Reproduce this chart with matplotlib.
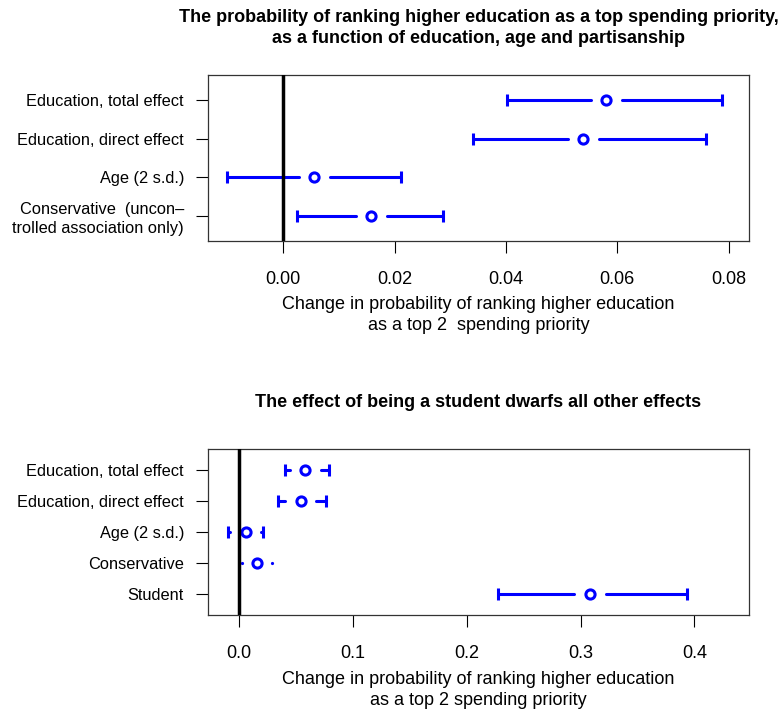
import numpy as np
import matplotlib.pyplot as plt
from matplotlib.ticker import FormatStrFormatter

plt.rcParams["font.family"] = "Liberation Sans"

# point estimates and 95% intervals, listed top row first
top_labels = [
    "Education, total effect",
    "Education, direct effect",
    "Age (2 s.d.)",
    "Conservative  (uncon\u2013\ntrolled association only)",
]
top_est = [0.0580, 0.0539, 0.0056, 0.0158]
top_lo = [0.0401, 0.0340, -0.0101, 0.0025]
top_hi = [0.0788, 0.0760, 0.0211, 0.0287]
top_xticks = [0.00, 0.02, 0.04, 0.06, 0.08]

student_est = 0.3084
student_lo = 0.2278
student_hi = 0.3935

bottom_labels = [
    "Education, total effect",
    "Education, direct effect",
    "Age (2 s.d.)",
    "Conservative",
    "Student",
]
bottom_est = top_est + [student_est]
bottom_lo = top_lo + [student_lo]
bottom_hi = top_hi + [student_hi]
bottom_xticks = [0.0, 0.1, 0.2, 0.3, 0.4]

BLUE = "#0000ff"
W, H = 780, 711


def px(x, y):
    return x / W, 1 - y / H


def ci_panel(ax, labels, est, lo, hi, xlim, pad, gap_px=15.7):
    n = len(labels)
    ys = np.arange(n, 0, -1)
    ax.set_xlim(xlim)
    ax.set_ylim(1 - pad, n + pad)
    gap = gap_px * (xlim[1] - xlim[0]) / ax.bbox.width

    ax.axvline(0, color="black", lw=2.5, zorder=5)
    for y, e, l, h in zip(ys, est, lo, hi):
        ends = [(l, max(e - gap, l)), (min(e + gap, h), h)]
        caps = [l, h]
        for (a, b), c in zip(ends, caps):
            if b - a > 0:
                ax.plot([a, b], [y, y], color=BLUE, lw=2.2,
                        solid_capstyle="round", zorder=3)
                ax.plot([c], [y], marker="|", ms=8, mew=2.2,
                        color=BLUE, zorder=3)
            else:
                # interval end falls inside the gap: R leaves a dot
                ax.plot([c], [y], marker="o", ms=2.3, mew=0,
                        color=BLUE, zorder=3)
        ax.plot([e], [y], marker="o", ms=6.6, mew=2.2, mfc="white",
                mec=BLUE, ls="none", zorder=4)

    ax.set_yticks(ys)
    ax.set_yticklabels(labels, fontsize=11.8, linespacing=1.3)
    ax.tick_params(axis="y", length=8.6, width=0.8, pad=8.9)
    ax.tick_params(axis="x", length=8.6, width=0.8, pad=13.2, labelsize=13)
    for s in ax.spines.values():
        s.set_color("#333333")
        s.set_linewidth(0.9)


fig = plt.figure(figsize=(7.8, 7.11), dpi=100)

ax1 = fig.add_axes([208.3 / W, 1 - 240.7 / H, 540.4 / W, 165.7 / H])
ci_panel(ax1, top_labels, top_est, top_lo, top_hi, (-0.01347, 0.08359), 0.648)
ax1.set_xticks(top_xticks)
ax1.xaxis.set_major_formatter(FormatStrFormatter("%.2f"))

ax2 = fig.add_axes([208.3 / W, 1 - 615 / H, 540.4 / W, 166 / H])
ci_panel(ax2, bottom_labels, bottom_est, bottom_lo, bottom_hi,
         (-0.02725, 0.4478), 0.682)
ax2.set_xticks(bottom_xticks)
ax2.xaxis.set_major_formatter(FormatStrFormatter("%.1f"))

cx = 478.5
title_kw = dict(ha="center", va="baseline", fontsize=13, fontweight="bold")
fig.text(*px(cx, 22.3),
         "The probability of ranking higher education as a top spending priority,",
         **title_kw)
fig.text(*px(cx, 43.3), "as a function of education, age and partisanship",
         **title_kw)
fig.text(*px(cx, 406.7), "The effect of being a student dwarfs all other effects",
         **title_kw)

lab_kw = dict(ha="center", va="baseline", fontsize=13)
fig.text(*px(cx, 309), "Change in probability of ranking higher education", **lab_kw)
fig.text(*px(cx, 330.5), "as a top 2  spending priority", **lab_kw)
fig.text(*px(cx, 684), "Change in probability of ranking higher education", **lab_kw)
fig.text(*px(cx, 705), "as a top 2 spending priority", **lab_kw)

fig.savefig("out.png", dpi=100)
